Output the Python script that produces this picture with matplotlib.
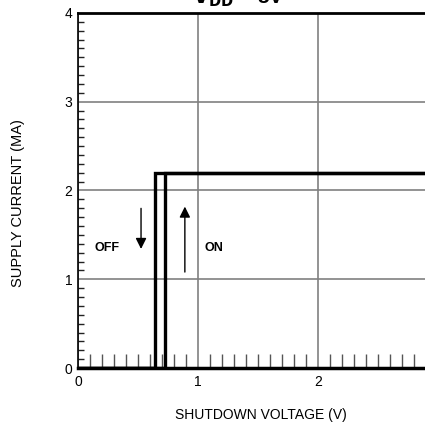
import numpy as np
import matplotlib
matplotlib.use("Agg")
import matplotlib.pyplot as plt
from matplotlib.ticker import MultipleLocator

plt.rcParams['font.family'] = ['Liberation Sans', 'DejaVu Sans']

# hysteresis thresholds and current level
v_on = 0.725
v_off = 0.64
i_on = 2.2
x_max = 2.89

on_x = [0, v_on, v_on, x_max]
on_y = [0, 0, i_on, i_on]
off_x = [x_max, v_off, v_off, 0]
off_y = [i_on, i_on, 0, 0]

x_ticks = [0, 1, 2]
y_ticks = [0, 1, 2, 3, 4]

fig = plt.figure(figsize=(4.25, 4.23), dpi=100)
ax = fig.add_axes([78/425, 55/423, 1 - 78/425, 355/423])

ax.plot(on_x, on_y, color='black', lw=2.4, solid_joinstyle='miter', zorder=3)
ax.plot(off_x, off_y, color='black', lw=2.4, solid_joinstyle='miter', zorder=3)

ax.set_xlim(0, x_max)
ax.set_ylim(0, 4)
ax.set_xticks(x_ticks)
ax.set_yticks(y_ticks)
ax.xaxis.set_minor_locator(MultipleLocator(0.1))
ax.yaxis.set_minor_locator(MultipleLocator(0.1))
ax.tick_params(which='major', length=0, labelsize=10)
ax.tick_params(axis='x', which='major', pad=5)
ax.tick_params(axis='y', which='major', pad=4)
ax.tick_params(axis='x', which='minor', direction='in', length=10, width=1, color='#555555')
ax.tick_params(axis='y', which='minor', direction='in', length=4, width=1, color='#222222')
ax.grid(True, which='major', color='#808080', lw=1.2)

ax.spines['right'].set_visible(False)
ax.spines['top'].set_linewidth(2)
ax.spines['bottom'].set_linewidth(2.5)
ax.spines['left'].set_linewidth(1.2)

# arrows and labels
ax.annotate('', xy=(0.525, 1.31), xytext=(0.525, 1.83),
            arrowprops=dict(arrowstyle='-|>', color='black', lw=1, mutation_scale=16))
ax.annotate('', xy=(0.89, 1.85), xytext=(0.89, 1.05),
            arrowprops=dict(arrowstyle='-|>', color='black', lw=1, mutation_scale=16))
ax.text(0.14, 1.35, 'OFF', fontsize=9, fontweight='bold', va='center', ha='left')
ax.text(1.05, 1.35, 'ON', fontsize=9, fontweight='bold', va='center', ha='left')

fig.text(18/425, 1 - 203/423, 'SUPPLY CURRENT (MA)', rotation=90, ha='center', va='center', fontsize=10.5)
fig.text(261/425, 8/423, 'SHUTDOWN VOLTAGE (V)', ha='center', va='center', fontsize=10)
fig.text(238/425, 1 - 3/423, r'$\mathbf{V_{DD}}$ = 5V', ha='center', va='baseline', fontsize=15, fontweight='bold')

fig.savefig('out.png', dpi=100)
